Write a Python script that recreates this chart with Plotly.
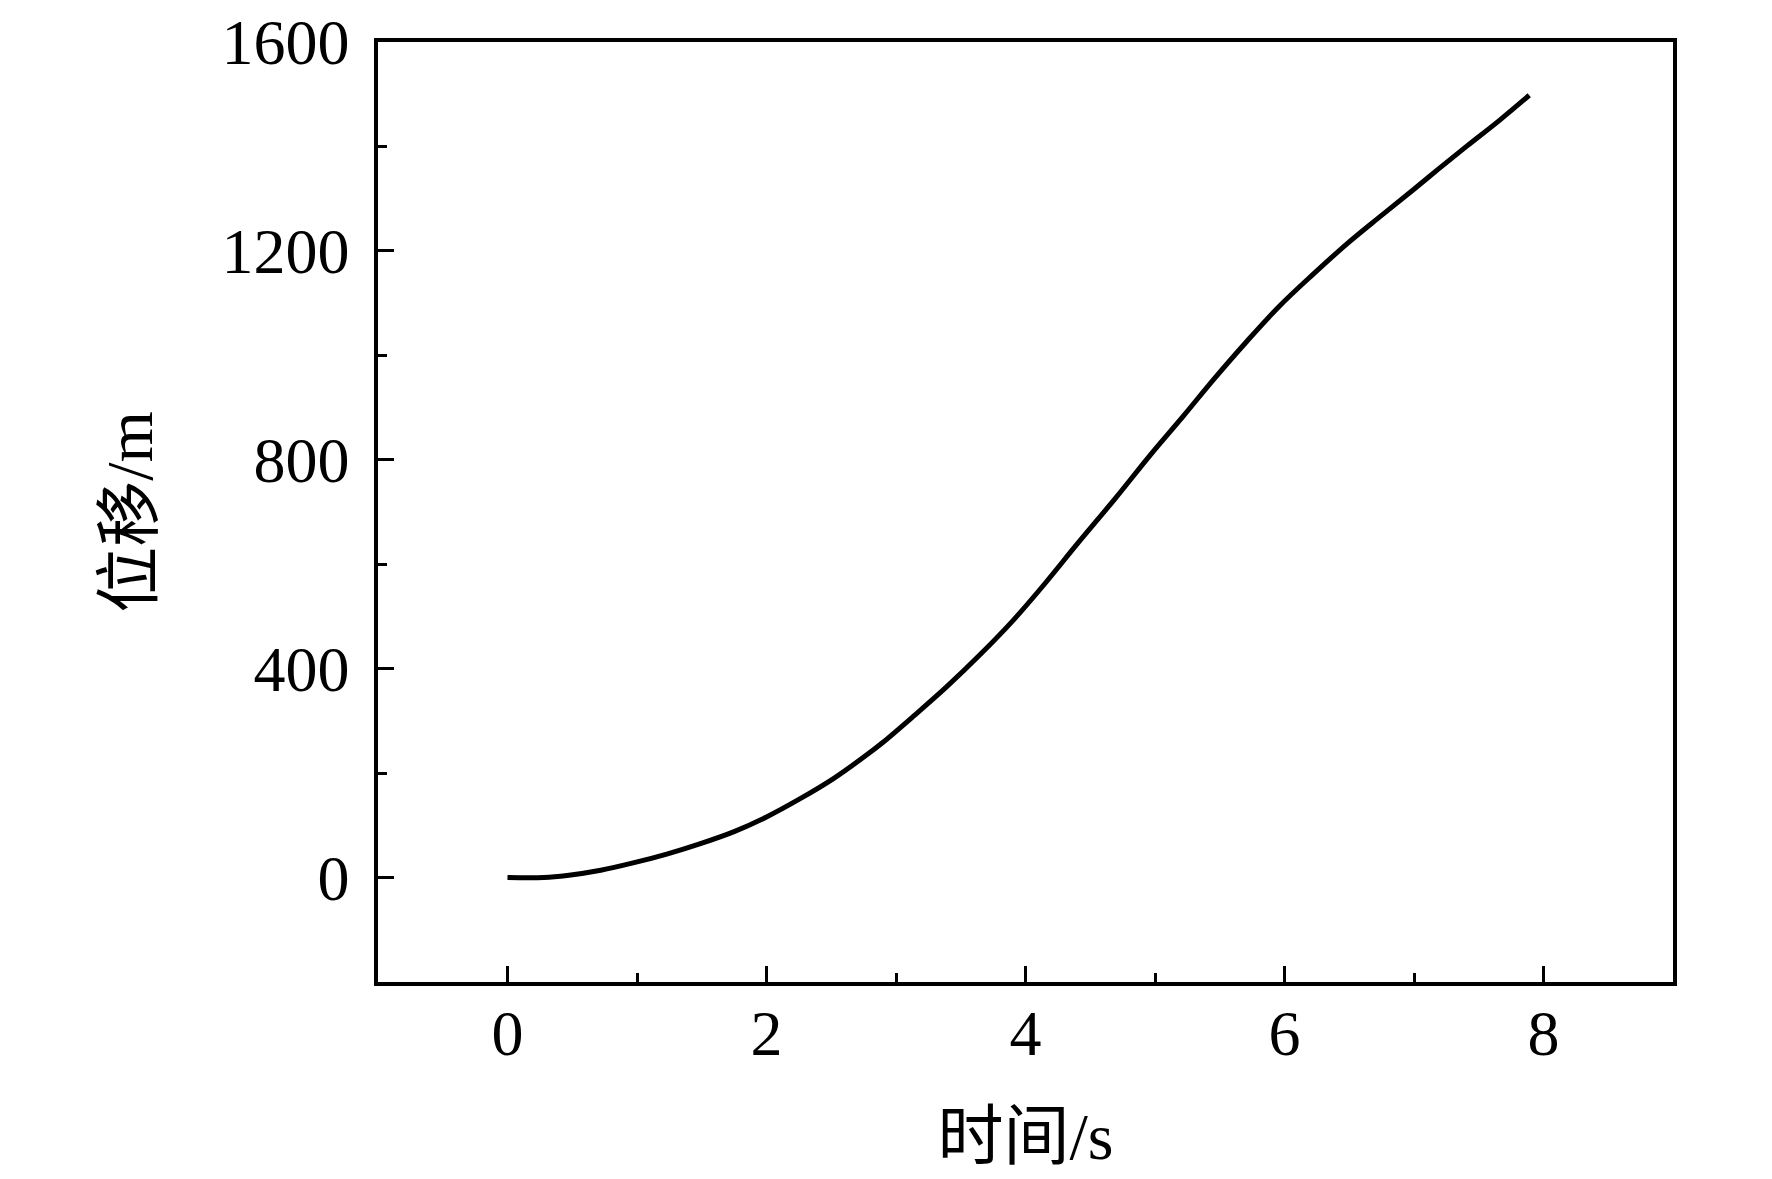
import plotly.graph_objects as go

# displacement vs time
time_s = [0, 0.28, 0.46, 0.72, 0.97, 1.23, 1.49, 1.75, 2.00, 2.26, 2.52, 2.78, 2.90,
          3.14, 3.39, 3.65, 3.91, 4.16, 4.39, 4.70, 4.96, 5.22, 5.45, 5.71, 5.96,
          6.22, 6.48, 6.74, 6.99, 7.19, 7.41, 7.66, 7.89]
displacement_m = [0, 0, 4, 14, 28, 45, 65, 88, 116, 151, 190, 236, 259,
                  310, 365, 427, 494, 566, 636, 728, 808, 884, 953, 1027, 1094,
                  1155, 1213, 1266, 1316, 1357, 1401, 1450, 1498]

x_ticks = [0, 2, 4, 6, 8]
y_ticks = [0, 400, 800, 1200, 1600]

font_family = "Liberation Serif, Times New Roman, Noto Sans CJK SC"

fig = go.Figure(go.Scatter(x=time_s, y=displacement_m, mode="lines",
                           line=dict(color="black", width=5, shape="spline", smoothing=1.0),
                           showlegend=False))

axis_style = dict(showline=True, linecolor="black", linewidth=3.5, mirror=True,
                  showgrid=False, zeroline=False, ticks="inside", ticklen=16,
                  tickwidth=3, tickcolor="black", ticklabeloverflow="allow",
                  automargin=False,
                  tickfont=dict(family=font_family, size=64, color="black"))

fig.update_xaxes(range=[-1, 9], tickvals=x_ticks, ticklabelstandoff=-8,
                 minor=dict(dtick=1, tick0=0, ticks="inside", ticklen=9, tickwidth=3, tickcolor="black"),
                 title=dict(text="时间/s", standoff=46,
                            font=dict(family=font_family, size=66, color="black")),
                 **axis_style)
fig.update_yaxes(range=[-200, 1600], tickvals=y_ticks, ticklabelstandoff=12,
                 minor=dict(dtick=200, tick0=0, ticks="inside", ticklen=9, tickwidth=3, tickcolor="black"),
                 title=dict(text="位移/m", standoff=48,
                            font=dict(family=font_family, size=66, color="black")),
                 **axis_style)

fig.update_layout(width=1772, height=1179,
                  margin=dict(l=370, r=107, t=34, b=205),
                  plot_bgcolor="white", paper_bgcolor="white")

fig.write_html("out.html")
